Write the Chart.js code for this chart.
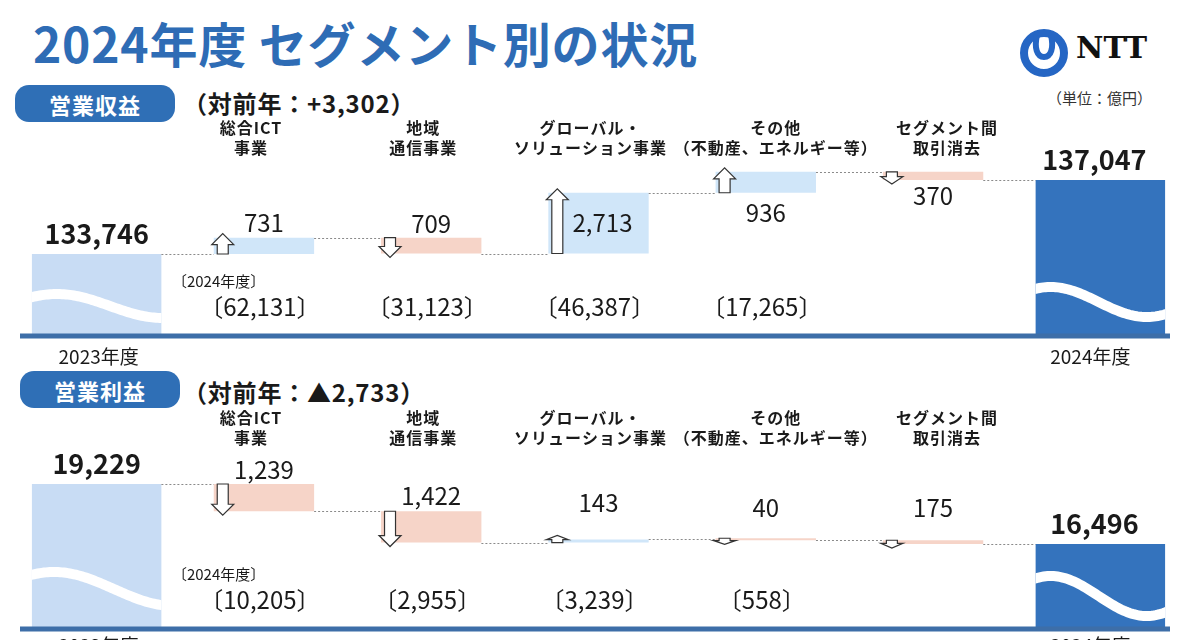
<!DOCTYPE html>
<html lang="ja">
<head>
<meta charset="utf-8">
<title>2024年度 セグメント別の状況</title>
<script src="https://cdn.jsdelivr.net/npm/chart.js@4.4.1/dist/chart.umd.min.js"></script>
<style>
  html, body { margin:0; padding:0; background:#fff; }
  body { width:1200px; height:640px; overflow:hidden; position:relative;
         font-family:"Noto Sans CJK JP","Noto Sans",sans-serif; color:#1a1a1a; }
  .abs { position:absolute; white-space:nowrap; }
  #title { left:33px; top:14px; font-size:48px; font-weight:700; color:#2e6cb5; line-height:56px; letter-spacing:0.8px; }
  .pill { position:absolute; width:160px; height:37px; border-radius:14px; background:#2f6fb6;
          color:#fff; font-size:22px; font-weight:700; display:flex; align-items:center; justify-content:center; letter-spacing:1px; }
  .diff { font-size:24px; font-weight:700; line-height:28px; letter-spacing:0.8px; }
  #unit { left:1047px; top:88px; font-size:15px; color:#333; line-height:20px; }
  #ntt { left:1076px; top:31px; font-family:"DejaVu Serif",serif; font-weight:700; font-size:30px; line-height:34px; color:#111; }
  canvas { position:absolute; left:0; }
</style>
</head>
<body>
<div id="title" class="abs">2024年度 セグメント別の状況</div>
<svg class="abs" style="left:1016px;top:26px" width="56" height="54" viewBox="0 0 56 54">
  <circle cx="28" cy="27" r="20" fill="none" stroke="#2566c4" stroke-width="8"/>
  <path d="M21 9 C18 22 21 31 28 31 C35 31 38 22 35 9" fill="none" stroke="#2566c4" stroke-width="6"/>
</svg>
<div id="ntt" class="abs">NTT</div>
<div id="unit" class="abs">（単位：億円）</div>

<div class="pill" style="left:15px;top:85px">営業収益</div>
<div id="revDiff" class="abs diff" style="left:183px;top:89px"></div>
<div class="pill" style="left:20px;top:371px">営業利益</div>
<div id="opDiff" class="abs diff" style="left:183px;top:378px"></div>

<canvas id="revChart" width="1200" height="270" style="top:110px"></canvas>
<canvas id="opChart" width="1200" height="240" style="top:400px"></canvas>

<script>
// ===== data (億円) =====
const categories = ['2023年度', '総合ICT事業', '地域通信事業', 'グローバル・ソリューション事業',
                    'その他（不動産、エネルギー等）', 'セグメント間取引消去', '2024年度'];
const headerLines = [[], ['総合ICT', '事業'], ['地域', '通信事業'], ['グローバル・', 'ソリューション事業'],
                     ['その他', '（不動産、エネルギー等）'], ['セグメント間', '取引消去'], []];

const revenueStart = 133746;
const revenueEnd = 137047;
const revenueDeltas = [731, -709, 2713, 936, -370];
const revenueSegments2024 = [62131, 31123, 46387, 17265];
const revenueChange = 3302;

const profitStart = 19229;
const profitEnd = 16496;
const profitDeltas = [-1239, -1422, 143, -40, -175];
const profitSegments2024 = [10205, 2955, 3239, 558];
const profitChange = -2733;

// ===== helpers =====
const FONT = '"Noto Sans CJK JP","Noto Sans",sans-serif';
const num = (v) => Math.abs(v).toLocaleString('en-US');
const el = (id) => document.getElementById(id);

el('revDiff').textContent = '（対前年：' + (revenueChange >= 0 ? '+' : '▲') + num(revenueChange) + '）';
el('opDiff').textContent  = '（対前年：' + (profitChange >= 0 ? '+' : '▲') + num(profitChange) + '）';

const COL = {
  start: '#c8dcf4', end: '#3473bd', up: '#d0e6f9', down: '#f6d4c8',
  line: '#3d6ea8', dots: '#8a8a8a', arrow: '#333'
};
// small horizontal nudges of the column headers (px)
const headerDx = [0, -13, -8, -8, 10, 14, 0];

function drawArrow(ctx, cx, yFrom, yTo){
  const dir = yTo < yFrom ? -1 : 1;
  const len = Math.abs(yTo - yFrom);
  const hh = Math.min(11, len * 0.6), hw = 11, sw = 5.5;
  const neck = yTo - dir * hh;
  ctx.beginPath();
  ctx.moveTo(cx - sw, yFrom); ctx.lineTo(cx - sw, neck); ctx.lineTo(cx - hw, neck);
  ctx.lineTo(cx, yTo); ctx.lineTo(cx + hw, neck); ctx.lineTo(cx + sw, neck);
  ctx.lineTo(cx + sw, yFrom); ctx.closePath();
  ctx.fillStyle = '#fff'; ctx.fill();
  ctx.lineWidth = 1.2; ctx.strokeStyle = COL.arrow; ctx.stroke();
}

function rectOf(bar, area){
  const top = Math.min(bar.y, bar.base), bottom = Math.min(Math.max(bar.y, bar.base), area.bottom);
  return { left: bar.x - bar.width / 2, right: bar.x + bar.width / 2, top, bottom, cx: bar.x };
}

// overlay: waves, connectors, arrows, labels, baseline
function makeOverlay(p){
  return {
    id: 'overlay',
    afterDatasetsDraw(chart){
      const { ctx, chartArea: area, scales: { y } } = chart;
      const totals = chart.getDatasetMeta(0).data;
      const deltas = chart.getDatasetMeta(1).data;
      const n = categories.length;
      const bars = [];
      for (let i = 0; i < n; i++) bars.push(rectOf((i === 0 || i === n - 1) ? totals[i] : deltas[i], area));

      // running level at the end of each column
      const lvl = [p.start];
      p.deltas.forEach((d, k) => lvl.push(lvl[k] + d));
      lvl.push(p.end);

      ctx.save();
      // broken-axis waves on total bars
      [0, n - 1].forEach((i, j) => {
        const r = bars[i], w = p.waves[j], B = area.bottom;
        ctx.save();
        ctx.beginPath(); ctx.rect(r.left, r.top, r.right - r.left, B - r.top); ctx.clip();
        ctx.beginPath();
        for (let t = -6; t <= (r.right - r.left) + 6; t += 2){
          const yy = B - w.mid - w.amp * Math.cos(2 * Math.PI * (t - w.peak) / w.period);
          if (t === -6) ctx.moveTo(r.left + t, yy); else ctx.lineTo(r.left + t, yy);
        }
        ctx.lineWidth = 10; ctx.strokeStyle = '#fff'; ctx.stroke();
        ctx.restore();
      });

      // dotted connectors
      ctx.setLineDash([2, 2]); ctx.lineWidth = 1; ctx.strokeStyle = COL.dots;
      for (let i = 0; i < n - 1; i++){
        const yy = Math.round(y.getPixelForValue(lvl[i])) + 0.5;
        ctx.beginPath(); ctx.moveTo(bars[i].right, yy); ctx.lineTo(bars[i + 1].left, yy); ctx.stroke();
      }
      ctx.setLineDash([]);

      // arrows
      p.deltas.forEach((d, k) => {
        const r = bars[k + 1], cx = r.left + 9;
        if (d >= 0) drawArrow(ctx, cx, r.bottom, r.top - 4);
        else drawArrow(ctx, cx, r.top, r.bottom + 4);
      });

      // baseline
      ctx.beginPath(); ctx.moveTo(20, area.bottom + 2); ctx.lineTo(1170, area.bottom + 2);
      ctx.lineWidth = 5; ctx.strokeStyle = COL.line; ctx.stroke();

      ctx.textAlign = 'center'; ctx.textBaseline = 'middle'; ctx.fillStyle = '#1a1a1a';

      // column headers
      ctx.font = '700 16px ' + FONT;
      if ('letterSpacing' in ctx) ctx.letterSpacing = '1px';
      headerLines.forEach((lines, i) => {
        lines.forEach((s, li) => ctx.fillText(s, bars[i].cx + headerDx[i], 18 + li * 20));
      });
      if ('letterSpacing' in ctx) ctx.letterSpacing = '0px';

      // totals
      ctx.font = '700 27px ' + FONT;
      ctx.fillText(num(p.start), bars[0].cx, bars[0].top - 20);
      ctx.fillText(num(p.end), bars[n - 1].cx - 6, bars[n - 1].top - 20);

      // delta values
      ctx.font = '400 24px ' + FONT;
      p.deltas.forEach((d, k) => {
        const r = bars[k + 1], [pos, off] = p.place[k];
        let yy = pos === 'above' ? r.top - off : pos === 'below' ? r.bottom + off : (r.top + r.bottom) / 2;
        const xx = pos === 'inside' ? r.cx + 4 : r.cx;
        ctx.fillText(num(d), xx, yy);
      });

      // 2024 segment figures
      ctx.font = '400 24px ' + FONT;
      p.segments.forEach((v, k) => ctx.fillText('〔' + num(v) + '〕', bars[k + 1].cx - 4, area.bottom - 27));
      ctx.font = '400 15px ' + FONT; ctx.textAlign = 'left';
      ctx.fillText('〔2024年度〕', bars[1].cx - 92, area.bottom - 53);

      // years under the baseline
      ctx.textAlign = 'center'; ctx.font = '400 19px ' + FONT;
      ctx.fillText(categories[0], bars[0].cx + 2, area.bottom + p.yearOff);
      ctx.fillText(categories[n - 1], bars[n - 1].cx - 10, area.bottom + p.yearOff);
      ctx.restore();
    }
  };
}

function makePanel(id, p){
  const n = categories.length;
  const totals = categories.map((c, i) => i === 0 ? p.start : i === n - 1 ? p.end : null);
  let run = p.start;
  const floats = [null];
  p.deltas.forEach(d => { floats.push([run, run + d]); run += d; });
  floats.push(null);
  const deltaColors = [null, ...p.deltas.map(d => d >= 0 ? COL.up : COL.down), null];

  return new Chart(el(id), {
    type: 'bar',
    data: {
      labels: categories,
      datasets: [
        { label: '年度計', data: totals, backgroundColor: [COL.start, null, null, null, null, null, COL.end],
          barPercentage: 0.774, categoryPercentage: 1, grouped: false },
        { label: '増減', data: floats, backgroundColor: deltaColors,
          barPercentage: 0.6, categoryPercentage: 1, grouped: false, minBarLength: 2 }
      ]
    },
    options: {
      responsive: false, animation: false, events: [],
      layout: { padding: p.padding },
      scales: {
        x: { display: false },
        y: { display: false, min: p.yMin, max: p.yMax }
      },
      plugins: { legend: { display: false }, tooltip: { enabled: false } }
    },
    plugins: [makeOverlay(p)]
  });
}

makePanel('revChart', {
  start: revenueStart, end: revenueEnd, deltas: revenueDeltas, segments: revenueSegments2024,
  yMin: 130175, yMax: 137943,
  padding: { left: 13, right: 16, top: 50, bottom: 46 },
  place: [['above', 15], ['above', 14], ['inside', 0], ['below', 20], ['below', 16]],
  waves: [{ mid: 28, amp: 12, peak: 25, period: 212 }, { mid: 32, amp: 15, peak: 15, period: 192 }],
  yearOff: 23
});

makePanel('opChart', {
  start: profitStart, end: profitEnd, deltas: profitDeltas, segments: profitSegments2024,
  yMin: 12729, yMax: 19865,
  padding: { left: 13, right: 16, top: 70, bottom: 13 },
  place: [['above', 14], ['above', 15], ['above', 37], ['above', 30], ['above', 32]],
  waves: [{ mid: 38, amp: 17, peak: 22, period: 240 }, { mid: 31, amp: 20, peak: 15, period: 192 }],
  yearOff: 19
});
</script>
</body>
</html>
